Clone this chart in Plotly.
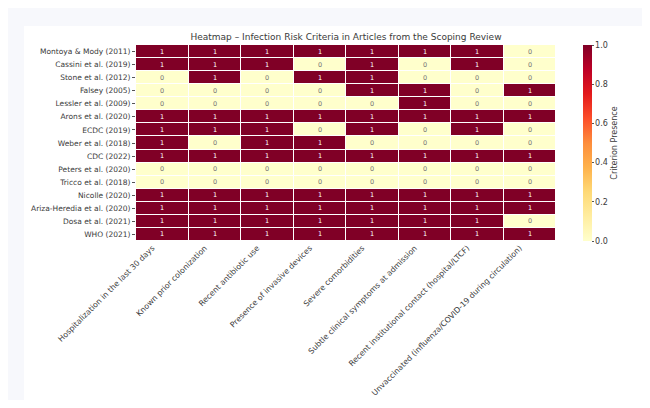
import plotly.graph_objects as go

articles = [
    "Montoya & Mody (2011)", "Cassini et al. (2019)", "Stone et al. (2012)",
    "Falsey (2005)", "Lessler et al. (2009)", "Arons et al. (2020)",
    "ECDC (2019)", "Weber et al. (2018)", "CDC (2022)", "Peters et al. (2020)",
    "Tricco et al. (2018)", "Nicolle (2020)", "Ariza-Heredia et al. (2020)",
    "Dosa et al. (2021)", "WHO (2021)",
]

criteria = [
    "Hospitalization in the last 30 days",
    "Known prior colonization",
    "Recent antibiotic use",
    "Presence of invasive devices",
    "Severe comorbidities",
    "Subtle clinical symptoms at admission",
    "Recent institutional contact (hospital/LTCF)",
    "Unvaccinated (influenza/COVID-19 during circulation)",
]

# one row per article, one column per criterion (1 = present)
presence = [
    [1, 1, 1, 1, 1, 1, 1, 0],
    [1, 1, 1, 0, 1, 0, 1, 0],
    [0, 1, 0, 1, 1, 0, 0, 0],
    [0, 0, 0, 0, 1, 1, 0, 1],
    [0, 0, 0, 0, 0, 1, 0, 0],
    [1, 1, 1, 1, 1, 1, 1, 1],
    [1, 1, 1, 0, 1, 0, 1, 0],
    [1, 0, 1, 1, 0, 0, 0, 0],
    [1, 1, 1, 1, 1, 1, 1, 1],
    [0, 0, 0, 0, 0, 0, 0, 0],
    [0, 0, 0, 0, 0, 0, 0, 0],
    [1, 1, 1, 1, 1, 1, 1, 1],
    [1, 1, 1, 1, 1, 1, 1, 1],
    [1, 1, 1, 1, 1, 1, 1, 0],
    [1, 1, 1, 1, 1, 1, 1, 1],
]

FONT = "DejaVu Sans"
TEXT_COLOR = "#3a3a3a"

# the page body adds an 8px margin, so work in figure pixels = screen - 8
OFF = 8
W, H = 650 - 2 * OFF, 408 - 2 * OFF
PLOT_L, PLOT_R = 136 - OFF, 556 - OFF
PLOT_T, PLOT_B = 45 - OFF, 241 - OFF
pw, ph = PLOT_R - PLOT_L, PLOT_B - PLOT_T


def px_x(px):
    return (px - PLOT_L) / pw


def px_y(py):
    return (PLOT_B - py) / ph


fig = go.Figure()

fig.add_trace(go.Heatmap(
    z=presence,
    x=criteria,
    y=articles,
    zmin=0, zmax=1,
    colorscale="YlOrRd",
    xgap=1, ygap=1,
    hoverinfo="skip",
    colorbar=dict(
        x=px_x(583 - OFF), xanchor="left", xref="paper", xpad=0, ypad=0,
        y=0.5, yanchor="middle", len=1.0, lenmode="fraction",
        thickness=9, outlinewidth=0,
        tickvals=[0, 0.2, 0.4, 0.6, 0.8, 1.0],
        ticktext=["0.0", "0.2", "0.4", "0.6", "0.8", "1.0"],
        ticks="outside", ticklen=2, tickcolor="#555",
        tickfont=dict(family=FONT, size=8, color=TEXT_COLOR),
        title=dict(text="Criterion Presence", side="right",
                   font=dict(family=FONT, size=8, color=TEXT_COLOR)),
    ),
))

# cell labels
for i, art in enumerate(articles):
    for j, crit in enumerate(criteria):
        v = presence[i][j]
        fig.add_annotation(
            x=crit, y=art, text=str(v), showarrow=False,
            font=dict(family=FONT, size=6.5, color="#ffffff" if v else "#777777"),
        )

# white card behind the chart
fig.add_shape(
    type="rect", xref="paper", yref="paper", layer="below",
    x0=px_x(24 - OFF), x1=px_x(W + 20), y0=px_y(H + 5), y1=px_y(26 - OFF),
    fillcolor="white", line=dict(width=0),
)

fig.update_layout(
    width=W, height=H,
    margin=dict(l=PLOT_L, r=W - PLOT_R, t=PLOT_T, b=H - PLOT_B),
    paper_bgcolor="#f7f8fc",
    plot_bgcolor="white",
    title=dict(
        text="Heatmap – Infection Risk Criteria in Articles from the Scoping Review",
        x=0.5, xref="paper", xanchor="center",
        y=1 - (37 - OFF) / H, yanchor="middle",
        font=dict(family=FONT, size=9, color=TEXT_COLOR),
    ),
    font=dict(family=FONT, color=TEXT_COLOR),
)

fig.update_xaxes(
    tickangle=-45, tickfont=dict(family=FONT, size=7.8, color=TEXT_COLOR),
    ticklabelshift=-10,
    showgrid=False, zeroline=False, ticks="", automargin=False,
)
fig.update_yaxes(
    autorange="reversed", tickfont=dict(family=FONT, size=7.5, color=TEXT_COLOR),
    showgrid=False, zeroline=False, ticks="outside", ticklen=3, tickcolor="#555",
    automargin=False,
)

fig.write_html("out.html")
